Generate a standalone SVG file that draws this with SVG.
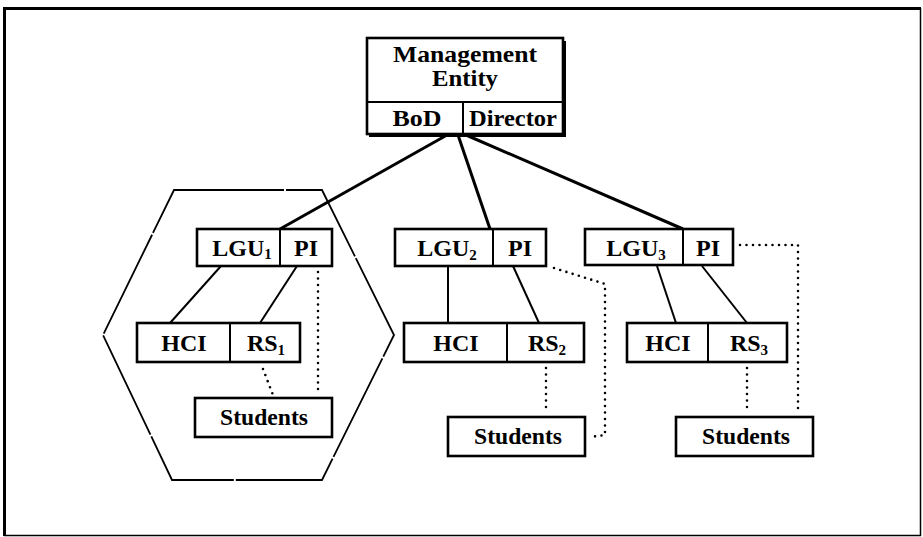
<svg xmlns="http://www.w3.org/2000/svg" width="923" height="537" viewBox="0 0 923 537">
  <style>
    .box { fill: #fff; stroke: #000; stroke-width: 2.6; }
    .div { stroke: #000; stroke-width: 2; fill: none; }
    .t { font-family: "Liberation Serif", "Times New Roman", serif; font-weight: bold; font-size: 24px; fill: #000; text-anchor: middle; }
    .sub { font-size: 15px; }
    .main { stroke: #000; stroke-width: 3; fill: none; }
    .link { stroke: #000; stroke-width: 2; fill: none; }
    .dot { stroke: #000; stroke-width: 2.6; fill: none; stroke-linecap: round; stroke-dasharray: 0 6.5; }
    .hex { stroke: #000; stroke-width: 1.8; fill: none; stroke-dasharray: 110 2; }
  </style>
  <rect width="923" height="537" fill="#fff"/>

  <!-- outer frame -->
  <g id="frame" fill="none" stroke="#000">
    <line x1="3" y1="8.5" x2="921" y2="8.5" stroke-width="3"/>
    <line x1="4.5" y1="7" x2="4.5" y2="536" stroke-width="3"/>
    <line x1="4" y1="535.5" x2="921" y2="535.5" stroke-width="1.5"/>
    <line x1="920.5" y1="8" x2="920.5" y2="536" stroke-width="1.5"/>
  </g>

  <!-- local group boundary -->
  <polygon class="hex" points="174,190 322,190 394,335 322,480 172,480 103,335"/>

  <g id="connectors">
    <line class="main" x1="447" y1="135" x2="280" y2="229"/>
    <line class="main" x1="458" y1="135" x2="490" y2="229"/>
    <line class="main" x1="466" y1="135" x2="683" y2="229"/>

    <line class="link" x1="221" y1="266" x2="170" y2="323"/>
    <line class="link" x1="297" y1="266" x2="260" y2="323"/>
    <line class="link" x1="448" y1="266" x2="448" y2="323"/>
    <line class="link" x1="513" y1="266" x2="539" y2="323"/>
    <line class="link" x1="657" y1="266" x2="676" y2="323"/>
    <line class="link" x1="702" y1="266" x2="747" y2="323"/>

    <polyline class="dot" points="318,272 318,394"/>
    <polyline class="dot" points="263,369 273,395"/>
    <polyline class="dot" points="554,268 605,284 605,435 590,437"/>
    <polyline class="dot" points="546,368 546,413"/>
    <polyline class="dot" points="740,245 798,245 798,413"/>
    <polyline class="dot" points="747,368 747,413"/>
  </g>

  <g id="management-entity">
    <rect x="369" y="41" width="197" height="96" fill="#000"/>
    <rect class="box" x="367" y="38" width="196" height="96"/>
    <line class="div" x1="367" y1="102" x2="563" y2="102"/>
    <line class="div" x1="463" y1="102" x2="463" y2="134"/>
    <text class="t" x="465" y="62" textLength="144" lengthAdjust="spacingAndGlyphs">Management</text>
    <text class="t" x="465" y="86" textLength="66" lengthAdjust="spacingAndGlyphs">Entity</text>
    <text class="t" x="417" y="126" textLength="49" lengthAdjust="spacingAndGlyphs">BoD</text>
    <text class="t" x="513" y="126" textLength="88" lengthAdjust="spacingAndGlyphs">Director</text>
  </g>

  <g id="lgu1">
    <rect class="box" x="197" y="229" width="135" height="37"/>
    <line class="div" x1="280" y1="229" x2="280" y2="266"/>
    <text class="t" x="242" y="256">LGU<tspan class="sub" dy="3">1</tspan></text>
    <text class="t" x="306" y="256">PI</text>
  </g>
  <g id="lgu2">
    <rect class="box" x="395" y="229" width="151" height="37"/>
    <line class="div" x1="493" y1="229" x2="493" y2="266"/>
    <text class="t" x="447" y="256">LGU<tspan class="sub" dy="4">2</tspan></text>
    <text class="t" x="520" y="256">PI</text>
  </g>
  <g id="lgu3">
    <rect class="box" x="585" y="229" width="148" height="36"/>
    <line class="div" x1="683" y1="229" x2="683" y2="265"/>
    <text class="t" x="636" y="256">LGU<tspan class="sub" dy="4">3</tspan></text>
    <text class="t" x="708" y="256">PI</text>
  </g>

  <g id="unit1">
    <rect class="box" x="137" y="323" width="163" height="39"/>
    <line class="div" x1="230" y1="323" x2="230" y2="362"/>
    <text class="t" x="184" y="351">HCI</text>
    <text class="t" x="266" y="351">RS<tspan class="sub" dy="4">1</tspan></text>
  </g>
  <g id="unit2">
    <rect class="box" x="404" y="323" width="180" height="39"/>
    <line class="div" x1="507" y1="323" x2="507" y2="362"/>
    <text class="t" x="456" y="351">HCI</text>
    <text class="t" x="547" y="351">RS<tspan class="sub" dy="4">2</tspan></text>
  </g>
  <g id="unit3">
    <rect class="box" x="627" y="323" width="160" height="39"/>
    <line class="div" x1="708" y1="323" x2="708" y2="362"/>
    <text class="t" x="668" y="351">HCI</text>
    <text class="t" x="749" y="351">RS<tspan class="sub" dy="4">3</tspan></text>
  </g>

  <g id="students1">
    <rect class="box" x="195" y="398" width="137" height="39"/>
    <text class="t" x="264" y="425" textLength="88" lengthAdjust="spacingAndGlyphs">Students</text>
  </g>
  <g id="students2">
    <rect class="box" x="448" y="417" width="137" height="39"/>
    <text class="t" x="518" y="444" textLength="88" lengthAdjust="spacingAndGlyphs">Students</text>
  </g>
  <g id="students3">
    <rect class="box" x="676" y="417" width="137" height="39"/>
    <text class="t" x="746" y="444" textLength="88" lengthAdjust="spacingAndGlyphs">Students</text>
  </g>
</svg>
